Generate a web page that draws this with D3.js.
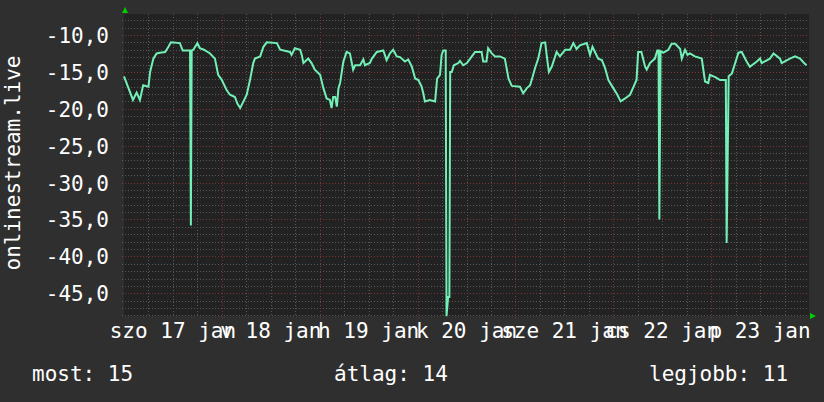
<!DOCTYPE html>
<html><head><meta charset="utf-8">
<script src="https://cdn.jsdelivr.net/npm/d3@7"></script>
<style>
body{margin:0;background:#2f2f2f}
svg{display:block}
text{font-family:"DejaVu Sans Mono",monospace;fill:#ffffff}
</style>
</head><body>
<svg id="c" width="824" height="402"></svg>
<script>
// Hours since Sat 17 Jan 00:00 and the measured value at that moment
const hours = [0,2.2,3.1,3.9,4.7,6.0,6.4,7.2,8.0,8.8,10.1,10.9,11.5,13.7,14.4,16.2,16.4,16.6,17.0,18.0,18.6,19.6,21.1,22.3,23.1,24.0,25.2,26.0,27.2,27.8,28.5,29.3,30.1,30.9,31.7,32.1,33.4,34.2,35.0,37.5,38.3,40.7,41.1,41.9,43.2,43.6,44.0,45.2,46.0,46.8,48.1,48.9,49.7,50.5,50.9,51.3,51.8,52.2,52.6,53.0,53.8,54.6,55.4,56.2,56.7,57.9,58.7,59.1,60.3,60.8,62.0,63.6,64.4,65.2,66.0,66.9,67.7,68.9,69.7,70.6,71.4,72.2,73.0,73.4,73.8,75.0,76.3,76.8,77.5,77.9,78.3,78.9,79.1,79.5,79.8,80.0,80.4,80.9,82.0,82.4,83.2,84.1,84.9,86.1,87.7,88.1,88.9,89.3,90.2,91.0,92.2,93.4,94.3,95.1,97.1,97.9,98.8,99.6,100.2,100.8,101.6,102.4,103.3,103.7,104.2,104.9,106.1,106.9,108.2,109.4,110.2,111.0,111.8,113.5,114.3,114.9,115.5,116.3,117.2,118.0,118.8,120.0,121.0,121.8,122.9,124.1,124.9,125.7,126.1,126.9,127.8,128.2,129.0,130.2,130.8,131.1,131.3,131.6,132.3,133.5,134.3,135.2,136.4,136.8,137.6,138.2,138.8,140.0,141.7,142.5,143.3,143.7,145.0,146.2,147.4,147.6,147.8,148.3,149.1,149.9,150.7,151.5,152.7,153.5,155.2,156.0,156.4,158.4,159.3,160.9,161.3,163.3,164.6,165.8,166.8,167.4];
const values = [-15.6,-18.8,-17.8,-18.8,-16.8,-17.0,-15.0,-13.2,-12.5,-12.4,-12.3,-11.6,-11.0,-11.1,-12.1,-12.1,-35.8,-12.1,-12.0,-11.1,-11.8,-12.0,-12.5,-13.2,-15.4,-16.1,-17.5,-18.1,-18.4,-19.3,-19.9,-19.0,-18.1,-16.1,-13.8,-13.2,-12.9,-11.6,-11.0,-11.1,-12.0,-12.3,-12.7,-11.8,-12.0,-12.7,-13.8,-13.2,-13.8,-14.7,-15.4,-17.2,-18.6,-18.8,-19.9,-18.4,-18.4,-19.7,-17.2,-16.5,-13.6,-12.3,-12.5,-14.7,-14.1,-14.1,-13.3,-14.1,-13.8,-13.2,-12.3,-12.1,-13.4,-12.5,-12.0,-12.9,-13.0,-13.6,-13.3,-14.3,-15.9,-16.1,-17.0,-17.9,-19.0,-18.8,-19.0,-15.9,-15.4,-12.7,-12.1,-12.1,-48.1,-45.5,-45.5,-15.0,-15.0,-14.1,-13.8,-13.5,-14.1,-13.8,-13.2,-12.3,-12.3,-13.6,-13.6,-11.8,-12.5,-12.9,-12.9,-13.2,-15.9,-16.9,-17.0,-17.9,-17.2,-16.8,-15.7,-14.5,-13.2,-11.1,-11.0,-12.9,-15.0,-14.3,-12.3,-12.9,-12.0,-12.0,-11.1,-11.9,-11.4,-11.1,-12.7,-11.6,-12.3,-13.2,-13.4,-14.5,-16.1,-17.2,-18.1,-19.0,-18.6,-18.1,-17.1,-16.1,-12.3,-12.3,-14.3,-14.7,-13.8,-13.2,-12.1,-12.1,-35.0,-12.2,-12.4,-12.0,-11.2,-11.2,-11.9,-13.2,-12.0,-12.7,-12.5,-12.9,-13.2,-16.3,-16.5,-15.4,-15.7,-16.1,-16.1,-16.1,-38.2,-15.6,-15.2,-13.8,-12.4,-12.3,-13.6,-14.3,-13.6,-13.2,-13.8,-13.2,-12.5,-13.2,-13.8,-13.2,-12.9,-13.2,-13.8,-14.1,-15.0];

const yTicks = [-10,-15,-20,-25,-30,-35,-40,-45];
const yTickLabels = ["-10,0","-15,0","-20,0","-25,0","-30,0","-35,0","-40,0","-45,0"];
const dayLabels = ["szo 17 jan","v 18 jan","h 19 jan","k 20 jan","sze 21 jan","cs 22 jan","p 23 jan"];
const legendLabels = ["most: 15","átlag: 14","legjobb: 11"];
const yTitle = "onlinestream.live";

const start = new Date(2026,0,17,0,0,0);
const end = new Date(2026,0,24,0,0,0);
const data = hours.map((h,i)=>({t:new Date(start.getTime()+h*3600e3), v:values[i]}));

const L=124, R=809, T=14, B=316;
const x = d3.scaleTime().domain([start,end]).range([L,R]);
const y = d3.scaleLinear().domain([-48.08,-7.155]).range([B,T]);

const svg = d3.select("#c");
svg.append("rect").attr("width",824).attr("height",402).attr("fill","#2f2f2f");
svg.append("rect").attr("x",L).attr("y",T).attr("width",R-L).attr("height",B-T).attr("fill","#222222");

const g = svg.append("g").attr("shape-rendering","crispEdges");
// horizontal grid
const minorY = d3.range(-48,-7).filter(v=>v%5!==0);
g.selectAll(".hm").data(minorY).join("line")
  .attr("x1",L-2).attr("x2",R).attr("y1",d=>Math.round(y(d))+0.5).attr("y2",d=>Math.round(y(d))+0.5)
  .attr("stroke","#585858").attr("stroke-dasharray","1,2");
g.selectAll(".hM").data(yTicks).join("line")
  .attr("x1",L-2).attr("x2",R).attr("y1",d=>Math.round(y(d))+0.5).attr("y2",d=>Math.round(y(d))+0.5)
  .attr("stroke","#7a3434").attr("stroke-dasharray","1,2");
// vertical grid
const minorX = d3.timeHour.every(6).range(start,end).filter(d=>d.getHours()!==0);
const majorX = d3.timeDay.range(d3.timeDay.offset(start,1),end);
g.selectAll(".vm").data(minorX).join("line")
  .attr("x1",d=>Math.round(x(d))+0.5).attr("x2",d=>Math.round(x(d))+0.5).attr("y1",T).attr("y2",B)
  .attr("stroke","#585858").attr("stroke-dasharray","1,2");
g.selectAll(".vM").data(majorX).join("line")
  .attr("x1",d=>Math.round(x(d))+0.5).attr("x2",d=>Math.round(x(d))+0.5).attr("y1",T).attr("y2",B+2)
  .attr("stroke","#7a3434").attr("stroke-dasharray","1,2");

// y labels
svg.selectAll(".yl").data(yTicks).join("text")
  .attr("x",109).attr("y",d=>y(d)+8).attr("text-anchor","end")
  .attr("font-size",21).text((d,i)=>yTickLabels[i]);

// x labels at noon
const noons = dayLabels.map((s,i)=>d3.timeHour.offset(d3.timeDay.offset(start,i),12));
svg.selectAll(".xl").data(noons).join("text")
  .attr("x",d=>x(d)).attr("y",338).attr("text-anchor","middle")
  .attr("font-size",21).text((d,i)=>dayLabels[i]);

// y title
svg.append("text").attr("transform","translate(20,163) rotate(-90)")
  .attr("text-anchor","middle").attr("font-size",21).text(yTitle);

// line
svg.append("path").datum(data)
  .attr("d",d3.line().x(d=>x(d.t)).y(d=>y(d.v)))
  .attr("fill","none").attr("stroke","#72f0b6").attr("stroke-width",2).attr("stroke-linejoin","miter");

// arrows
svg.append("path").attr("d",`M${L-2},${T-1}L${L+4},${T-1}L${L+1},${T-7}Z`).attr("fill","#00d000");
svg.append("path").attr("d",`M${R+1},${B-3}L${R+1},${B+3}L${R+7},${B}Z`).attr("fill","#00d000");

// legend
const legX = [32,334,649];
svg.selectAll(".lg").data(legendLabels).join("text")
  .attr("x",(d,i)=>legX[i]).attr("y",381).attr("font-size",21).text(d=>d);
</script>
</body></html>
